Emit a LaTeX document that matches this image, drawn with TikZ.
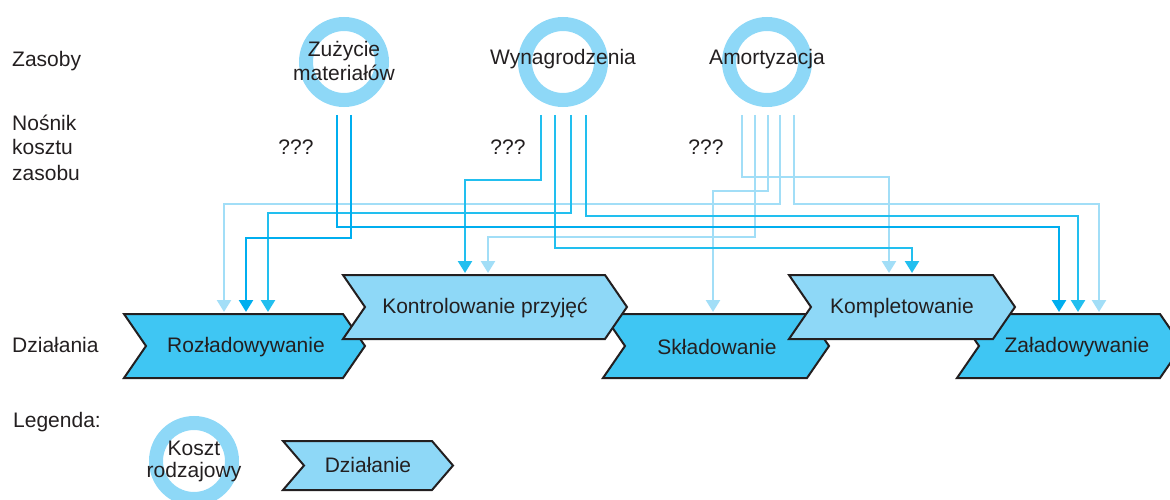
\documentclass[tikz,border=0pt]{standalone}
\usepackage{fontspec}
\setmainfont{Liberation Sans}
\usetikzlibrary{arrows.meta}

\definecolor{inkc}{HTML}{231F20}
\definecolor{ringc}{HTML}{8ED8F7}
\definecolor{actlight}{HTML}{8ED8F7}
\definecolor{actdark}{HTML}{3FC6F3}
\definecolor{flowlight}{HTML}{A2DEF7}
\definecolor{flowmid}{HTML}{22BFEF}
\definecolor{flowdark}{HTML}{00AEEF}

\begin{document}
\begin{tikzpicture}[x=1pt, y=-1pt,
    font=\fontsize{21}{24}\selectfont, text=inkc,
    ring/.style={circle, draw=ringc, line width=14pt, minimum size=76pt, inner sep=0pt},
    label/.style={anchor=base, inner sep=0pt, align=center},
    actbox/.style={draw=inkc, line width=2pt},
    flow/.style={line width=2.5pt, -{Triangle[width=14pt, length=12pt]}}]
    \useasboundingbox (0,0) rectangle (1170,500);

    % Row labels (base of a multi-line node = its last line)
    \node[label, anchor=base west] (zasoby) at (12,67) {Zasoby};
    \node[label, anchor=base west, align=left, font=\fontsize{21}{25}\selectfont] (nosnik) at (12,180) {Nośnik\\kosztu\\zasobu};
    \node[label, anchor=base west] (dzialania) at (12,352) {Działania};
    \node[label, anchor=base west] (legenda) at (13,427) {Legenda:};

    % Resources (cost types)
    \node[ring] (zuz) at (344,62) {};
    \node[ring] (wyn) at (563,62) {};
    \node[ring] (amo) at (767,62) {};
    \node[label] (zuz-t) at (344,81) {Zużycie\\materiałów};
    \node[label] (wyn-t) at (563,65) {Wynagrodzenia};
    \node[label] (amo-t) at (767,65) {Amortyzacja};

    % Unknown cost drivers
    \node[label] (q1) at (296,154) {???};
    \node[label] (q2) at (508,154) {???};
    \node[label] (q3) at (706,154) {???};

    % Activities, lower row
    \draw[actbox, fill=actdark] (124,314) -- ++(219,0) -- ++(22,32) -- ++(-22,32) -- ++(-219,0) -- ++(22,-32) -- cycle;
    \draw[actbox, fill=actdark] (603,314) -- ++(204,0) -- ++(22,32) -- ++(-22,32) -- ++(-204,0) -- ++(22,-32) -- cycle;
    \draw[actbox, fill=actdark] (957,314) -- ++(203,0) -- ++(22,32) -- ++(-22,32) -- ++(-203,0) -- ++(22,-32) -- cycle;
    \node[label] (rozl) at (246,352) {Rozładowywanie};
    \node[label] (sklad) at (717,354) {Składowanie};
    \node[label] (zalad) at (1077,352) {Załadowywanie};

    % Activities, upper row
    \draw[actbox, fill=actlight] (343,275) -- ++(262,0) -- ++(22,32) -- ++(-22,32) -- ++(-262,0) -- ++(22,-32) -- cycle;
    \draw[actbox, fill=actlight] (789,275) -- ++(204,0) -- ++(22,32) -- ++(-22,32) -- ++(-204,0) -- ++(22,-32) -- cycle;
    \node[label] (kontr) at (485,313) {Kontrolowanie przyjęć};
    \node[label] (kompl) at (902,313) {Kompletowanie};

    % Start points under the resources
    \coordinate (zuz1) at (337,115);
    \coordinate (zuz2) at (351,115);
    \coordinate (wyn1) at (541,115);
    \coordinate (wyn2) at (555,115);
    \coordinate (wyn3) at (571,115);
    \coordinate (wyn4) at (586,115);
    \coordinate (amo1) at (742,115);
    \coordinate (amo2) at (755,115);
    \coordinate (amo3) at (768,115);
    \coordinate (amo4) at (780,115);
    \coordinate (amo5) at (794,115);

    % End points on top of the activities
    \coordinate (rozl1) at (224,312);
    \coordinate (rozl2) at (246,312);
    \coordinate (rozl3) at (268,312);
    \coordinate (kontr1) at (465,273);
    \coordinate (kontr2) at (488,273);
    \coordinate (sklad1) at (713,312);
    \coordinate (kompl1) at (889,273);
    \coordinate (kompl2) at (912,273);
    \coordinate (zalad1) at (1059,312);
    \coordinate (zalad2) at (1078,312);
    \coordinate (zalad3) at (1099,312);

    % Amortyzacja
    \draw[flow, flowlight] (amo1) -- (amo1 |- 0,177) -| (kompl1);
    \draw[flow, flowlight] (amo2) -- (amo2 |- 0,237) -| (kontr2);
    \draw[flow, flowlight] (amo3) -- (amo3 |- 0,191) -| (sklad1);
    \draw[flow, flowlight] (amo4) -- (amo4 |- 0,204) -| (rozl1);
    \draw[flow, flowlight] (amo5) -- (amo5 |- 0,204) -| (zalad3);

    % Wynagrodzenia
    \draw[flow, flowmid] (wyn1) -- (wyn1 |- 0,180) -| (kontr1);
    \draw[flow, flowmid] (wyn2) -- (wyn2 |- 0,248) -| (kompl2);
    \draw[flow, flowmid] (wyn3) -- (wyn3 |- 0,213) -| (rozl3);
    \draw[flow, flowmid] (wyn4) -- (wyn4 |- 0,216) -| (zalad2);

    % Zuzycie materialow
    \draw[flow, flowdark] (zuz1) -- (zuz1 |- 0,227) -| (zalad1);
    \draw[flow, flowdark] (zuz2) -- (zuz2 |- 0,238) -| (rozl2);

    % Legend
    \node[ring] (leg-ring) at (194,461) {};
    \node[label, font=\fontsize{21}{22}\selectfont] (leg-ring-t) at (194,477) {Koszt\\rodzajowy};
    \draw[actbox, fill=actlight] (283,441) -- ++(149,0) -- ++(21,24.5) -- ++(-21,24.5) -- ++(-149,0) -- ++(21,-24.5) -- cycle;
    \node[label] (leg-act) at (368,472) {Działanie};
\end{tikzpicture}
\end{document}
